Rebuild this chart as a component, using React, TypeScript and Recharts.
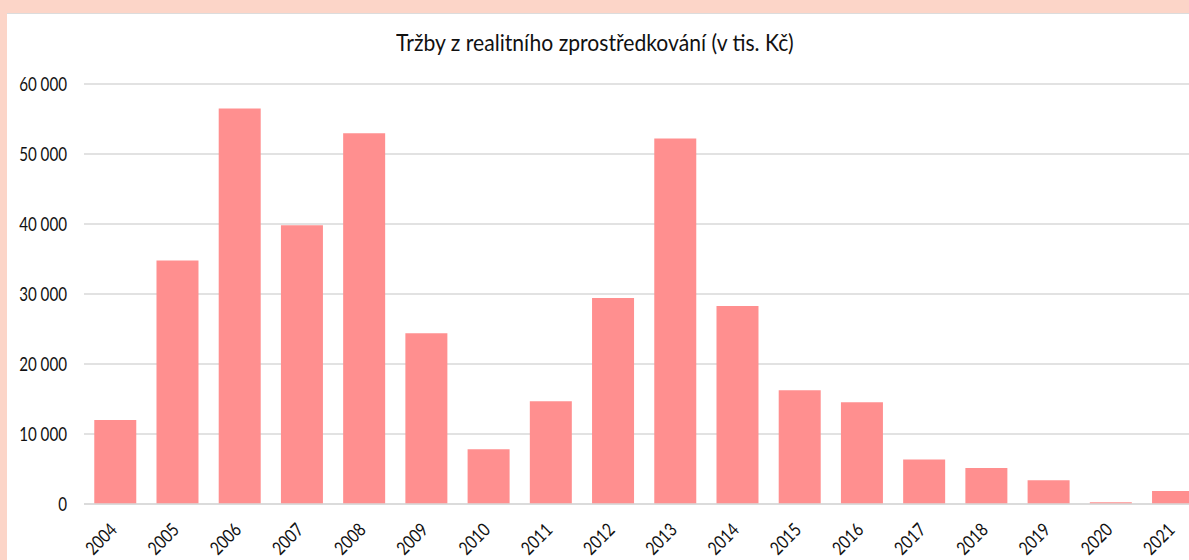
import { BarChart, Bar, XAxis, YAxis, CartesianGrid } from 'recharts'

const years = [
  '2004', '2005', '2006', '2007', '2008', '2009', '2010', '2011', '2012',
  '2013', '2014', '2015', '2016', '2017', '2018', '2019', '2020', '2021',
]
const revenue = [
  12000, 34770, 56490, 39810, 52960, 24390, 7810, 14670, 29430,
  52200, 28290, 16240, 14530, 6340, 5140, 3390, 240, 1860,
]
const yTicks = [0, 10000, 20000, 30000, 40000, 50000, 60000]

const FONT = 'Lato, sans-serif'
const SQUEEZE = 0.82

const fmt = (v: number) => (v === 0 ? '0' : `${Math.round(v / 1000)} 000`)

// Calibri-like narrow text: squeeze the glyphs along the baseline
function YTick({ x, y, payload }: any) {
  return (
    <g transform={`translate(${x},${y})`}>
      <text transform={`scale(${SQUEEZE},1)`} textAnchor="end" dy={6.6}
        fontSize={18.5} fontFamily={FONT} fill="#111">
        {fmt(payload.value)}
      </text>
    </g>
  )
}

function XTick({ x, y, payload }: any) {
  return (
    <g transform={`translate(${x + 3},${y + 27})`}>
      <text transform={`rotate(-45) scale(${SQUEEZE},1)`} textAnchor="end"
        fontSize={18.5} fontFamily={FONT} fill="#111">
        {payload.value}
      </text>
    </g>
  )
}

export default function App() {
  const data = years.map((y, i) => ({ year: y, value: revenue[i] }))

  return (
    <div style={{ position: 'fixed', left: 0, top: 0, width: 1189, height: 560, overflow: 'hidden', background: '#FCD5C8' }}>
      <div style={{
        position: 'absolute', left: 7, top: 13, width: 1200, height: 560,
        background: '#fff', borderTop: '1px solid #DCDCDC',
      }} />
      <div style={{
        position: 'absolute', left: 0, top: 28, width: 1189, textAlign: 'center',
        fontFamily: FONT, fontSize: 24, color: '#111', lineHeight: '28px',
      }}>
        <span style={{ display: 'inline-block', transform: 'scaleX(0.88)' }}>
          Tržby z realitního zprostředkování (v tis. Kč)
        </span>
      </div>
      <div style={{ position: 'absolute', left: 0, top: 0 }}>
        <BarChart width={1220} height={560} data={data} barCategoryGap="16.5%"
          margin={{ top: 84, right: 16, left: 0, bottom: 0 }}>
          <CartesianGrid vertical={false} stroke="#D9D9D9" strokeWidth={1.5} />
          <XAxis dataKey="year" axisLine={{ stroke: '#D9D9D9', strokeWidth: 1.5 }} tickLine={false}
            height={56} interval={0} tickSize={0} tickMargin={0} tick={<XTick />} />
          <YAxis width={84} domain={[0, 60000]} ticks={yTicks}
            axisLine={false} tickLine={false} tickSize={0} tickMargin={17} tick={<YTick />} />
          <Bar dataKey="value" fill="#FF8F8F" isAnimationActive={false} />
        </BarChart>
      </div>
    </div>
  )
}
